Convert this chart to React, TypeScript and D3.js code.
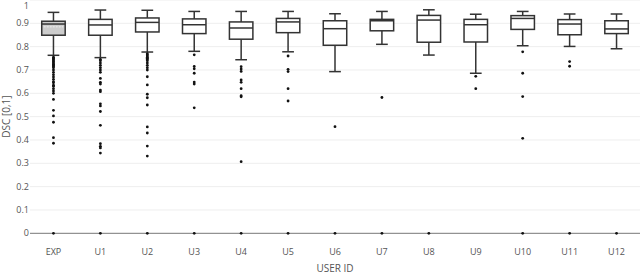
import { useEffect, useRef } from "react";
import * as d3 from "d3";

const users = ["EXP", "U1", "U2", "U3", "U4", "U5", "U6", "U7", "U8", "U9", "U10", "U11", "U12"];
const upperFence = [0.947, 0.957, 0.956, 0.951, 0.951, 0.951, 0.941, 0.951, 0.958, 0.939, 0.951, 0.94, 0.94];
const q3 = [0.909, 0.917, 0.923, 0.919, 0.906, 0.921, 0.911, 0.917, 0.934, 0.917, 0.933, 0.916, 0.911];
const median = [0.897, 0.893, 0.904, 0.894, 0.88, 0.906, 0.877, 0.911, 0.914, 0.894, 0.921, 0.897, 0.876];
const q1 = [0.849, 0.849, 0.863, 0.856, 0.832, 0.86, 0.806, 0.868, 0.819, 0.82, 0.874, 0.851, 0.856];
const lowerFence = [0.763, 0.753, 0.777, 0.78, 0.744, 0.778, 0.693, 0.81, 0.764, 0.686, 0.804, 0.801, 0.791];
const expMean = 0.885;

const outliers: number[][] = [
  [0.755, 0.75, 0.745, 0.74, 0.735, 0.73, 0.725, 0.72, 0.715, 0.71, 0.70, 0.69, 0.68, 0.67, 0.66, 0.65, 0.645,
    0.635, 0.63, 0.62, 0.61, 0.60, 0.574, 0.527, 0.503, 0.476, 0.41, 0.386, 0],
  [0.745, 0.74, 0.73, 0.72, 0.71, 0.70, 0.69, 0.664, 0.647, 0.64, 0.614, 0.607, 0.555, 0.546, 0.522, 0.463,
    0.384, 0.373, 0.366, 0.344, 0],
  [0.77, 0.765, 0.76, 0.755, 0.75, 0.745, 0.74, 0.73, 0.72, 0.71, 0.70, 0.671, 0.636, 0.596, 0.581, 0.55,
    0.456, 0.43, 0.374, 0.331, 0],
  [0.765, 0.715, 0.705, 0.686, 0.648, 0.64, 0.538, 0],
  [0.714, 0.704, 0.694, 0.657, 0.647, 0.62, 0.59, 0.585, 0.307, 0],
  [0.76, 0.703, 0.693, 0.62, 0.567, 0],
  [0.457, 0],
  [0.582, 0],
  [0],
  [0.673, 0.62],
  [0.778, 0.686, 0.586, 0.407, 0],
  [0.736, 0.716, 0],
  [0],
];

const yTicks = [0, 0.1, 0.2, 0.3, 0.4, 0.5, 0.6, 0.7, 0.8, 0.9, 1];

export default function App() {
  const svgRef = useRef<SVGSVGElement>(null);

  useEffect(() => {
    if (!svgRef.current) return;
    const svg = d3.select(svgRef.current);
    svg.selectAll("*").remove();

    const left = 30;
    const right = 640;
    const bottom = 233.3;
    const top = 0;

    const x = d3.scaleBand<string>().domain(users).range([left, right]);
    const y = d3.scaleLinear().domain([0, 1]).range([bottom, top]);
    const boxW = x.bandwidth() * 0.5;
    const capW = boxW * 0.5;

    // gridlines
    svg
      .append("g")
      .selectAll("line")
      .data(yTicks.filter((t) => t > 0))
      .join("line")
      .attr("x1", left)
      .attr("x2", right)
      .attr("y1", (d) => y(d))
      .attr("y2", (d) => y(d))
      .attr("stroke", "#eeeeee")
      .attr("stroke-width", 1);

    // zero line
    svg
      .append("line")
      .attr("x1", left)
      .attr("x2", right)
      .attr("y1", y(0))
      .attr("y2", y(0))
      .attr("stroke", "#777")
      .attr("stroke-width", 1);

    // y tick labels (top one nudged so it stays inside the frame)
    svg
      .append("g")
      .selectAll("text")
      .data(yTicks)
      .join("text")
      .attr("x", left - 1)
      .attr("y", (d) => Math.max(y(d), 6))
      .attr("dy", "0.35em")
      .attr("text-anchor", "end")
      .attr("fill", "#555")
      .style("font-family", "'Open Sans', sans-serif")
      .style("font-size", "9px")
      .text((d) => d3.format("~g")(d));

    // x tick labels
    svg
      .append("g")
      .selectAll("text")
      .data(users)
      .join("text")
      .attr("x", (d) => (x(d) as number) + x.bandwidth() / 2)
      .attr("y", 255)
      .attr("text-anchor", "middle")
      .attr("fill", "#555")
      .style("font-family", "'Open Sans', sans-serif")
      .style("font-size", "9px")
      .text((d) => d);

    // axis titles
    svg
      .append("text")
      .attr("x", 335)
      .attr("y", 272)
      .attr("text-anchor", "middle")
      .attr("fill", "#555")
      .style("font-family", "'Open Sans', sans-serif")
      .style("font-size", "10px")
      .text("USER ID");

    svg
      .append("text")
      .attr("transform", `translate(10,${(top + bottom) / 2}) rotate(-90)`)
      .attr("text-anchor", "middle")
      .attr("fill", "#555")
      .style("font-family", "'Open Sans', sans-serif")
      .style("font-size", "10px")
      .text("DSC [0,1]");

    // boxes
    const g = svg.append("g");
    users.forEach((u, i) => {
      const cx = (x(u) as number) + x.bandwidth() / 2;
      const stroke = "#333";
      // whiskers
      g.append("line")
        .attr("x1", cx).attr("x2", cx)
        .attr("y1", y(upperFence[i])).attr("y2", y(q3[i]))
        .attr("stroke", stroke).attr("stroke-width", 1.5);
      g.append("line")
        .attr("x1", cx).attr("x2", cx)
        .attr("y1", y(q1[i])).attr("y2", y(lowerFence[i]))
        .attr("stroke", stroke).attr("stroke-width", 1.5);
      g.append("line")
        .attr("x1", cx - capW / 2).attr("x2", cx + capW / 2)
        .attr("y1", y(upperFence[i])).attr("y2", y(upperFence[i]))
        .attr("stroke", stroke).attr("stroke-width", 1.5);
      g.append("line")
        .attr("x1", cx - capW / 2).attr("x2", cx + capW / 2)
        .attr("y1", y(lowerFence[i])).attr("y2", y(lowerFence[i]))
        .attr("stroke", stroke).attr("stroke-width", 1.5);
      // box
      g.append("rect")
        .attr("x", cx - boxW / 2)
        .attr("y", y(q3[i]))
        .attr("width", boxW)
        .attr("height", y(q1[i]) - y(q3[i]))
        .attr("fill", i === 0 ? "#cccccc" : "#ffffff")
        .attr("stroke", stroke)
        .attr("stroke-width", 1.5);
      if (i === 0) {
        g.append("line")
          .attr("x1", cx - boxW / 2 + 2).attr("x2", cx + boxW / 2 - 2)
          .attr("y1", y(expMean)).attr("y2", y(expMean))
          .attr("stroke", "#eeeeee").attr("stroke-width", 1)
          .attr("stroke-dasharray", "2,1");
      }
      g.append("line")
        .attr("x1", cx - boxW / 2).attr("x2", cx + boxW / 2)
        .attr("y1", y(median[i])).attr("y2", y(median[i]))
        .attr("stroke", stroke).attr("stroke-width", 1.5);
      // outliers
      g.selectAll(null)
        .data(outliers[i])
        .join("circle")
        .attr("cx", cx)
        .attr("cy", (d) => y(d))
        .attr("r", 1.4)
        .attr("fill", "#111");
    });
  }, []);

  return (
    <div style={{ position: "fixed", left: 0, top: 0, width: 640, height: 276, background: "#fff" }}>
      <svg ref={svgRef} width={640} height={276} style={{ display: "block" }}></svg>
    </div>
  );
}
